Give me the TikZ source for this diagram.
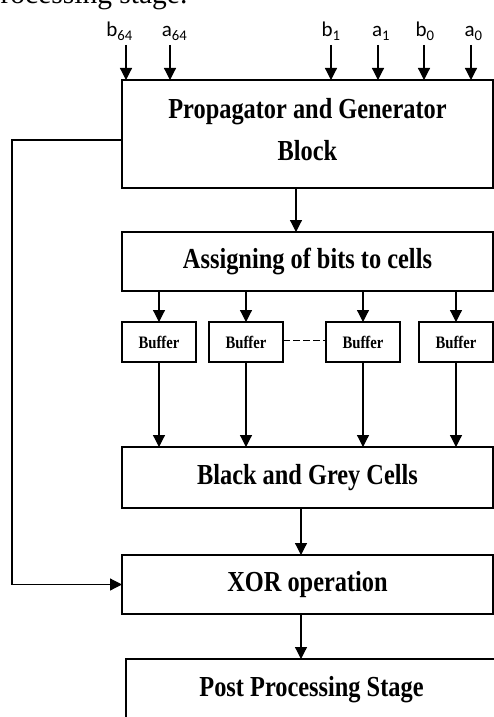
\documentclass[tikz,border=0pt]{standalone}
\usepackage{fontspec}
\usepackage{tikz}
\usetikzlibrary{arrows.meta}
\setmainfont{Liberation Serif}
\newfontfamily\boxfont{Liberation Serif}[FakeStretch=0.84]
\newfontfamily\pinfont{Carlito}

\begin{document}
\begin{tikzpicture}[x=1pt,y=-1pt,line width=1.2pt,
    blk/.style={draw, outer sep=0pt, inner sep=0pt, minimum width=371pt,
      align=center, font=\boxfont\bfseries\fontsize{29}{42}\selectfont},
    bufbox/.style={draw, outer sep=0pt, inner sep=0pt, minimum width=74pt,
      minimum height=40pt, font=\boxfont\bfseries\fontsize{17.5}{20}\selectfont},
    pin/.style={inner sep=0pt, font=\pinfont\fontsize{21}{25}\selectfont},
    arr/.style={-{Triangle[width=12pt,length=12pt]}}]
          \useasboundingbox (0,0) rectangle (494,717);
          \clip (0,0) rectangle (494,717);
          % Text of the page above
          \node[inner sep=0pt, anchor=base east, font=\fontsize{29.5}{35}\selectfont] (caption) at (188,3.5) {Processing stage.};
          % Draw blocks
          \node[blk, minimum height=108pt] (prop) at (307.5,134) {Propagator and Generator\\Block\rule[-10pt]{0pt}{10pt}};
          \node[blk, minimum height=59pt] (assign) at (307.5,261.5) {Assigning of bits to cells};
          \foreach \i/\bx in {1/159,2/246,3/363,4/456}
            \node[bufbox] (buf\i) at (\bx,342) {Buffer};
          \node[blk, minimum height=61pt] (black) at (307.5,477.5) {Black and Grey Cells};
          \node[blk, minimum height=59pt] (xor) at (307.5,584.5) {XOR operation};
          \node[blk, minimum height=62pt] (post) at (311.5,690) {Post Processing Stage};
          % Inputs
          \foreach \ch/\sub/\lx/\ax [count=\i] in {b/64/119.5/126, a/64/174.5/170, b/1/331/331, a/1/381/378, b/0/425/424, a/0/473.5/471} {
            \node[pin, anchor=base] (in\i) at (\lx,37) {\ch\textsubscript{\sub}};
            \coordinate (tip\i) at (\ax,45);
            \draw[arr] (tip\i) -- (tip\i |- prop.north);
          }
          % Arrows down the chain
          \draw[arr] ([xshift=-11.5pt]prop.south) -- ([xshift=-11.5pt]prop.south |- assign.north);
          \foreach \i in {1,...,4} {
            \draw[arr] (assign.south -| buf\i) -- (buf\i.north);
            \draw[arr] (buf\i.south) -- (buf\i.south |- black.north);
          }
          \draw[line width=1pt, dash pattern=on 7pt off 3pt] ([yshift=2pt]buf2.east) -- ([yshift=2pt]buf3.west);
          \draw[arr] ([xshift=-6.5pt]black.south) -- ([xshift=-6.5pt]black.south |- xor.north);
          \draw[arr] ([xshift=-6.5pt]xor.south) -- ([xshift=-6.5pt]xor.south |- post.north);
          % Feedback line
          \coordinate (loop) at (12,0);
          \draw[arr] ([yshift=-6pt]prop.west) -| (loop |- xor.west) -- (xor.west);
        \end{tikzpicture}
\end{document}
